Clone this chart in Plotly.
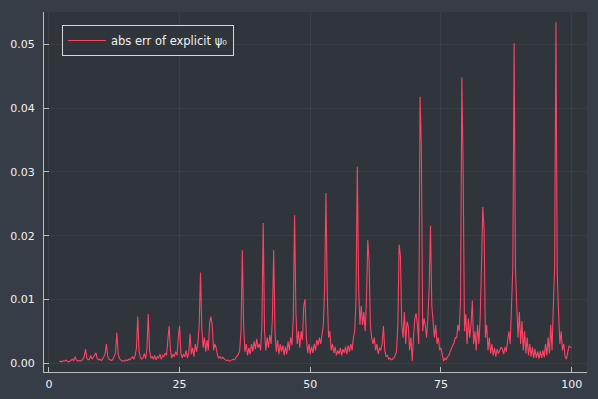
import plotly.graph_objects as go

# abs error samples, in units of 1e-4, four samples per unit of x (x = n, n+.25, n+.5, n+.75)
err_rows_1e4 = {
    2: [2, 3, 2, 4], 3: [3, 5, 3, 2], 4: [3, 4, 6, 4], 5: [10, 5, 3, 4],
    6: [3, 4, 6, 10], 7: [22, 8, 5, 6], 8: [12, 6, 9, 12], 9: [16, 7, 5, 6],
    10: [4, 6, 9, 14], 11: [30, 10, 6, 5], 12: [4, 6, 10, 16], 13: [48, 14, 7, 5],
    14: [3, 4, 3, 5], 15: [4, 6, 5, 8], 16: [10, 6, 12, 24], 17: [73, 18, 9, 6],
    18: [8, 15, 7, 22], 19: [77, 20, 8, 10], 20: [6, 12, 5, 10], 21: [8, 14, 6, 12],
    22: [10, 16, 12, 36], 23: [58, 20, 8, 14], 24: [10, 18, 12, 40], 25: [58, 16, 8, 14],
    26: [10, 20, 8, 16], 27: [46, 14, 24, 10], 28: [30, 18, 32, 60], 29: [142, 55, 24, 40],
    30: [18, 36, 20, 64], 31: [73, 58, 20, 30], 32: [24, 12, 8, 10], 33: [7, 9, 6, 5],
    34: [4, 5, 3, 4], 35: [5, 6, 5, 8], 36: [10, 14, 20, 50], 37: [177, 60, 18, 30],
    38: [12, 24, 14, 30], 39: [18, 34, 22, 38], 40: [24, 30, 20, 60], 41: [220, 50, 20, 40],
    42: [24, 44, 30, 70], 43: [177, 48, 18, 36], 44: [14, 30, 18, 28], 45: [12, 26, 14, 34],
    46: [20, 40, 28, 70], 47: [232, 80, 30, 50], 48: [24, 50, 36, 90], 49: [100, 40, 16, 30],
    50: [14, 26, 16, 30], 51: [20, 36, 28, 40], 52: [30, 50, 60, 120], 53: [267, 110, 40, 50],
    54: [20, 30, 16, 26], 55: [12, 20, 14, 24], 56: [12, 22, 16, 26], 57: [14, 28, 18, 30],
    58: [20, 40, 50, 100], 59: [308, 120, 60, 90], 60: [60, 80, 50, 100], 61: [193, 160, 60, 40],
    62: [30, 40, 20, 30], 63: [14, 24, 20, 30], 64: [58, 20, 10, 12], 65: [6, 8, 5, 6],
    66: [8, 12, 18, 60], 67: [186, 168, 60, 40], 68: [80, 30, 65, 58], 69: [20, 40, 3, 40],
    70: [70, 78, 60, 30], 71: [418, 340, 50, 70], 72: [60, 40, 70, 120], 73: [216, 90, 60, 40],
    74: [60, 30, 40, 20], 75: [24, 10, 3, 8], 76: [5, 10, 12, 18], 77: [22, 28, 32, 40],
    78: [40, 60, 50, 100], 79: [448, 300, 50, 77], 80: [30, 70, 40, 60], 81: [98, 30, 50, 20],
    82: [60, 30, 70, 150], 83: [245, 210, 40, 60], 84: [20, 40, 15, 30], 85: [12, 24, 10, 22],
    86: [15, 20, 25, 22], 87: [14, 25, 18, 35], 88: [50, 30, 90, 150], 89: [502, 150, 90, 40],
    90: [80, 30, 66, 20], 91: [50, 15, 40, 12], 92: [30, 10, 25, 8], 93: [22, 8, 18, 7],
    94: [19, 8, 20, 9], 95: [30, 12, 40, 15], 96: [60, 20, 90, 150], 97: [535, 140, 80, 30],
    98: [50, 20, 30, 10], 99: [6, 20, 27, 25], 100: [24],
}

x_vals = []
err_vals = []
for n, row in err_rows_1e4.items():
    for k, v in enumerate(row):
        x_vals.append(n + 0.25 * k)
        err_vals.append(v / 1e4)

series_name = "abs err of explicit ψ₀"
x_ticks = [0, 25, 50, 75, 100]
y_ticks = [0.00, 0.01, 0.02, 0.03, 0.04, 0.05]
y_tick_text = ["0.00", "0.01", "0.02", "0.03", "0.04", "0.05"]

paper_bg = "#363d46"
plot_bg = "#30343b"
line_col = "#fe4365"
fg = "#f2f2f2"
axis_col = "#b8bbc0"
grid_col = "rgba(255,255,255,0.05)"
font_family = "DejaVu Sans"

fig = go.Figure()
fig.add_trace(go.Scatter(
    x=x_vals, y=err_vals, mode="lines", name=series_name,
    line=dict(color=line_col, width=1.1),
))

xmin, xmax = min(x_vals), max(x_vals)
ymin, ymax = min(err_vals), max(err_vals)
xpad = 0.03 * (xmax - xmin)
ypad = 0.03 * (ymax - ymin)

fig.update_layout(
    template="none",
    width=598, height=399,
    margin=dict(l=44, r=11, t=12, b=27, pad=0),
    paper_bgcolor=paper_bg, plot_bgcolor=plot_bg,
    font=dict(family=font_family, size=11, color=fg),
    showlegend=True,
    legend=dict(
        x=0.033, y=0.964, xanchor="left", yanchor="top",
        bgcolor=plot_bg, bordercolor="#d8d8d8", borderwidth=1,
        font=dict(family=font_family, size=11.5, color=fg),
        itemwidth=38, tracegroupgap=0,
    ),
    xaxis=dict(
        range=[xmin - xpad, xmax + xpad], tickvals=x_ticks,
        ticks="inside", ticklen=5, tickcolor=axis_col, tickwidth=1,
        showline=True, linecolor=axis_col, linewidth=1,
        showgrid=True, gridcolor=grid_col, gridwidth=1,
        zeroline=False, mirror=False, automargin=False,
        ticklabelstandoff=2,
        tickfont=dict(family=font_family, size=11, color=fg),
    ),
    yaxis=dict(
        range=[ymin - ypad, ymax + ypad], tickvals=y_ticks, ticktext=y_tick_text,
        ticks="inside", ticklen=5, tickcolor=axis_col, tickwidth=1,
        showline=True, linecolor=axis_col, linewidth=1,
        showgrid=True, gridcolor=grid_col, gridwidth=1,
        zeroline=False, mirror=False, automargin=False,
        ticklabelstandoff=6,
        tickfont=dict(family=font_family, size=11, color=fg),
    ),
)

fig.write_html(
    "out.html",
    config={"displayModeBar": False},
    post_script="document.body.style.margin='0';document.body.style.background='#363d46';document.body.style.overflow='hidden';",
)
